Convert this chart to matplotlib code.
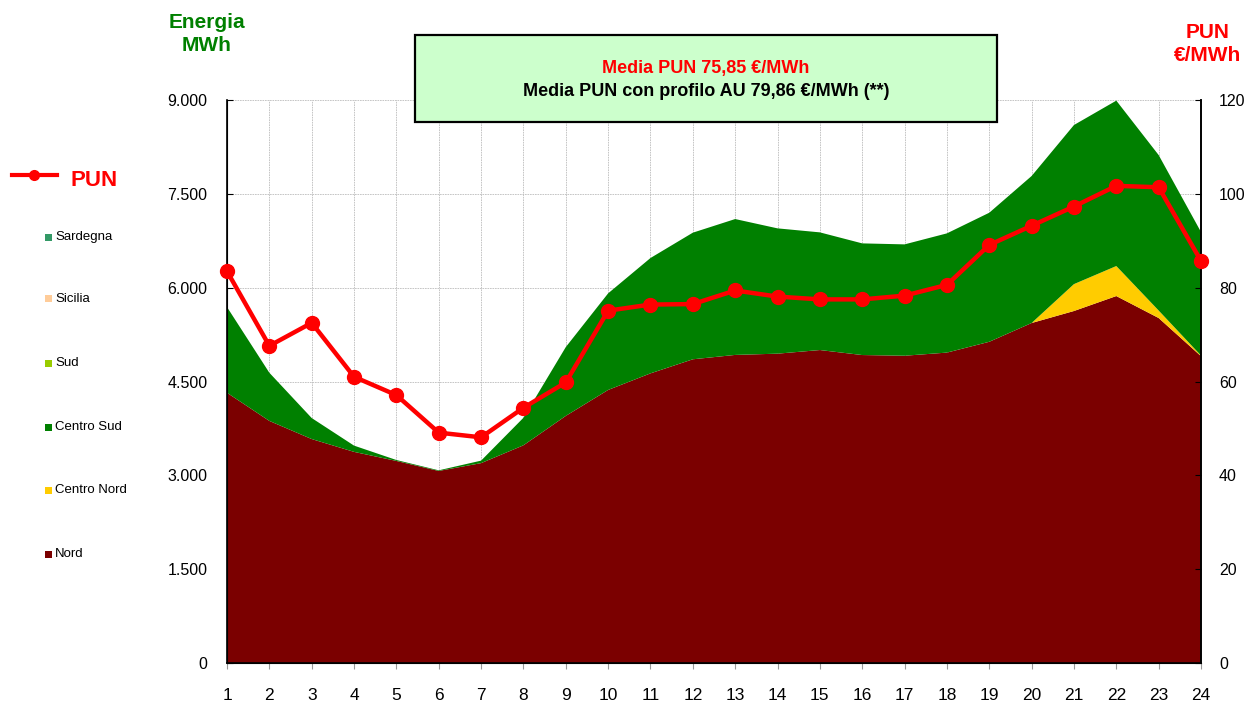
import matplotlib
matplotlib.use("Agg")
import matplotlib.pyplot as plt
from matplotlib.patches import Rectangle
from matplotlib.lines import Line2D
from matplotlib.ticker import FuncFormatter

plt.rcParams['font.family'] = ['Liberation Sans', 'DejaVu Sans']

hours = list(range(1, 25))
nord = [4320, 3870, 3580, 3375, 3230, 3070, 3195, 3480, 3950, 4365, 4630, 4855,
        4925, 4945, 5003, 4923, 4912, 4962, 5135, 5435, 5627, 5866, 5515, 4905]
centro_nord = [0, 0, 0, 0, 0, 0, 0, 0, 0, 0, 0, 0,
               0, 0, 0, 0, 0, 0, 0, 0, 430, 480, 120, 10]
centro_sud = [1370, 770, 336, 100, 15, 10, 40, 440, 1100, 1544, 1844, 2024,
              2172, 2003, 1881, 1785, 1780, 1906, 2063, 2350, 2543, 2644, 2485, 1975]
sud = [0] * 24
sicilia = [0] * 24
sardegna = [0] * 24
pun = [83.5, 67.6, 72.5, 61.0, 57.1, 49.1, 48.1, 54.4, 59.8, 75.1, 76.4, 76.5,
       79.4, 78.1, 77.5, 77.5, 78.3, 80.6, 89.1, 93.2, 97.3, 101.7, 101.4, 85.7]

zone_names = ["Nord", "Centro Nord", "Centro Sud", "Sud", "Sicilia", "Sardegna"]
zone_colors = ["#7b0000", "#ffcc00", "#008000", "#99cc00", "#ffcc99", "#339966"]
left_ticks = [0, 1500, 3000, 4500, 6000, 7500, 9000]
right_ticks = [0, 20, 40, 60, 80, 100, 120]

W, H = 1246, 702
fig = plt.figure(figsize=(W / 100, H / 100), dpi=100)
ax = fig.add_axes([227 / W, 1 - 663 / H, (1201 - 227) / W, (663 - 100) / H])

ax.stackplot(hours, nord, centro_nord, centro_sud, sud, sicilia, sardegna,
             colors=zone_colors, linewidth=0, zorder=2)
ax.set_xlim(1, 24)
ax.set_ylim(0, 9000)
ax.set_yticks(left_ticks)
ax.yaxis.set_major_formatter(FuncFormatter(lambda v, p: f"{int(v):,}".replace(",", ".")))
ax.set_xticks(hours)
ax.grid(True, color="#bdbdbd", lw=0.6, linestyle=(0, (2, 1)), zorder=1)
ax.set_axisbelow(True)
ax.tick_params(axis="y", direction="in", length=4, pad=14, labelsize=11.5, colors="black")
ax.tick_params(axis="x", direction="out", length=4, pad=14, labelsize=12.5, color="#999999")
ax.spines["top"].set_visible(False)
for s in ("left", "bottom", "right"):
    ax.spines[s].set_linewidth(1.2)

ax2 = ax.twinx()
ax2.plot(hours, pun, color="#ff0000", lw=3.2, marker="o", markersize=10,
         zorder=5, clip_on=False)
ax2.set_ylim(0, 120)
ax2.set_yticks(right_ticks)
ax2.tick_params(axis="y", direction="in", length=4, pad=13, labelsize=11.5)
ax2.spines["top"].set_visible(False)
ax2.spines["right"].set_linewidth(1.2)

# axis titles
fig.text(207 / W, 1 - 34 / H, "Energia\nMWh", color="#008000", fontsize=15,
         fontweight="bold", ha="center", va="center", linespacing=1.3)
fig.text(1208 / W, 1 - 44 / H, "PUN\n€/MWh", color="#ff0000", fontsize=15,
         fontweight="bold", ha="center", va="center", linespacing=1.3)

# info box
box = Rectangle((415 / W, 1 - 122 / H), (997 - 415) / W, (122 - 35) / H,
                transform=fig.transFigure, facecolor="#ccffcc", edgecolor="black",
                lw=1.6, zorder=10)
fig.add_artist(box)
fig.text(706 / W, 1 - 68 / H, "Media PUN 75,85 €/MWh", color="#ff0000",
         fontsize=13, fontweight="bold", ha="center", va="center", zorder=11)
fig.text(706 / W, 1 - 91 / H, "Media PUN con profilo AU 79,86 €/MWh (**)", color="black",
         fontsize=13, fontweight="bold", ha="center", va="center", zorder=11)

# legend
fig.add_artist(Line2D([12 / W, 57 / W], [1 - 175 / H, 1 - 175 / H], color="#ff0000", lw=3,
                      transform=fig.transFigure))
fig.add_artist(Line2D([34 / W], [1 - 175 / H], color="#ff0000", marker="o", markersize=7,
                      transform=fig.transFigure))
fig.text(70 / W, 1 - 180 / H, "PUN", color="#ff0000", fontsize=16, fontweight="bold",
         ha="left", va="center")
legend_y = {"Sardegna": 237, "Sicilia": 299, "Sud": 363, "Centro Sud": 427,
            "Centro Nord": 490, "Nord": 554}
for name, col in zip(zone_names, zone_colors):
    y = legend_y[name]
    fig.add_artist(Rectangle((45 / W, 1 - (y + 3.5) / H), 7 / W, 7 / H,
                             transform=fig.transFigure, facecolor=col, edgecolor="none"))
    fig.text(55 / W, 1 - y / H, name, fontsize=9.5, ha="left", va="center", color="black")

fig.savefig("out.png", dpi=100)
